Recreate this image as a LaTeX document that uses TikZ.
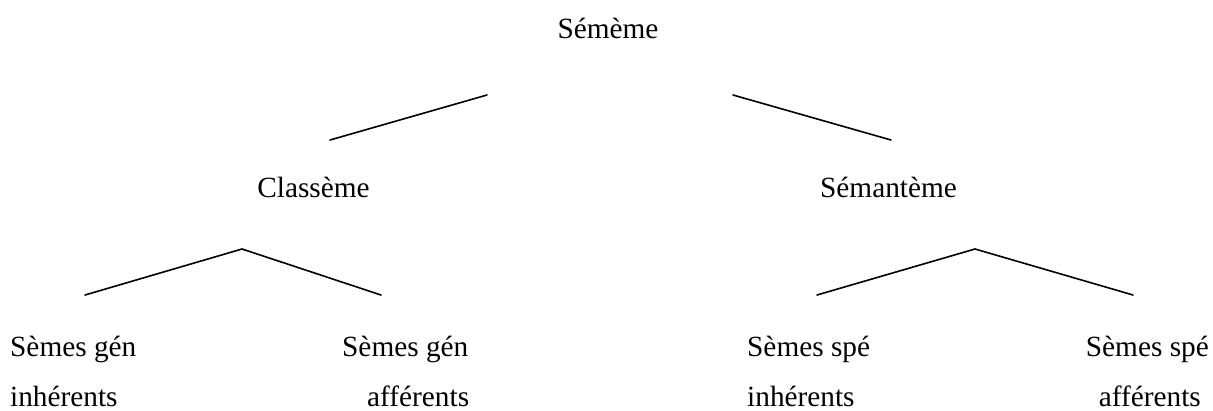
\documentclass[tikz,border=0pt]{standalone}
\usepackage{fontspec}
\setmainfont{Liberation Serif}
\begin{document}
\begin{tikzpicture}[x=1pt,y=-1pt,
  lbl/.style={inner sep=0pt,font=\fontsize{29.3}{35}\selectfont},
  br/.style={line width=1.6pt,line cap=round}]
\useasboundingbox (0,0) rectangle (1213,410);
% text
\node[lbl,anchor=base] (seme) at (608,38) {Sémème};
\node[lbl,anchor=base] (classeme) at (313.5,197) {Classème};
\node[lbl,anchor=base] (semanteme) at (888.5,197) {Sémantème};
\node[lbl,anchor=base west] (g1a) at (10,356) {Sèmes gén};
\node[lbl,anchor=base west] (g1b) at (10,406) {inhérents};
\node[lbl,anchor=base west] (g2a) at (342,356) {Sèmes gén};
\node[lbl,anchor=base west] (g2b) at (367,406) {afférents};
\node[lbl,anchor=base west] (s1a) at (747,356) {Sèmes spé};
\node[lbl,anchor=base west] (s1b) at (747,406) {inhérents};
\node[lbl,anchor=base east] (s2a) at (1209,356) {Sèmes spé};
\node[lbl,anchor=base east] (s2b) at (1201,406) {afférents};
% branch coordinates
\coordinate (t1) at (330,140); \coordinate (t2) at (487,95);
\coordinate (t3) at (733,95); \coordinate (t4) at (891,140);
\coordinate (la) at (242,249); \coordinate (l1) at (85,295); \coordinate (l2) at (381,295);
\coordinate (ra) at (975,249); \coordinate (r1) at (817,295); \coordinate (r2) at (1133,295);
\draw[br] (t1) -- (t2);
\draw[br] (t3) -- (t4);
\draw[br] (l1) -- (la) -- (l2);
\draw[br] (r1) -- (ra) -- (r2);
\end{tikzpicture}
\end{document}
